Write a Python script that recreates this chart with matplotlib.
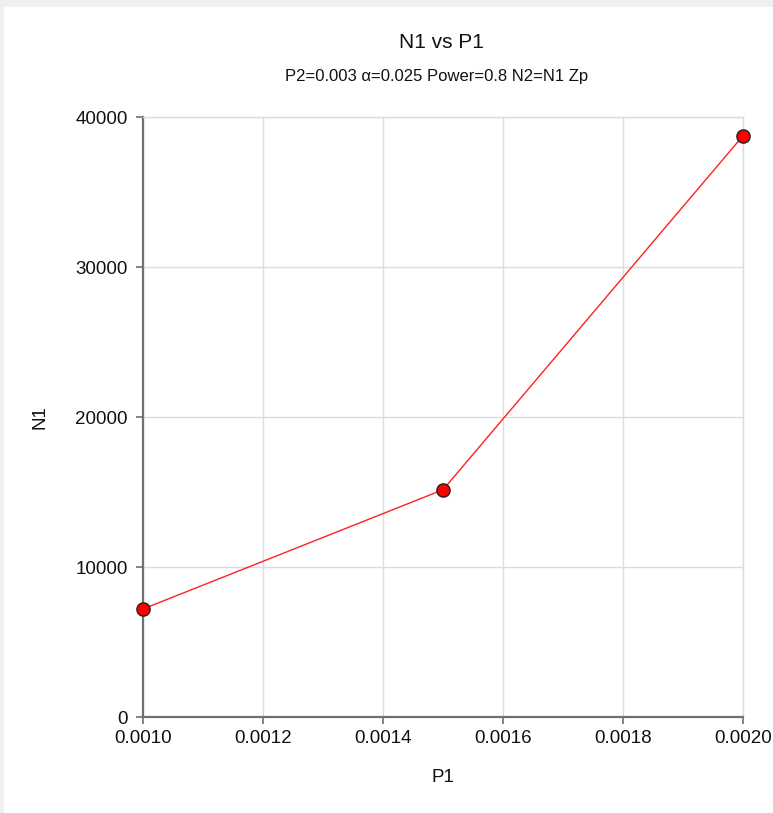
import matplotlib
matplotlib.use('Agg')
import matplotlib.pyplot as plt
from matplotlib.patches import Rectangle

plt.rcParams['font.family'] = ['Liberation Sans', 'DejaVu Sans']

# data
p1 = [0.0010, 0.0015, 0.0020]
n1 = [7200, 15150, 38750]
x_ticks = [0.0010, 0.0012, 0.0014, 0.0016, 0.0018, 0.0020]
y_ticks = [0, 10000, 20000, 30000, 40000]

W, H = 773, 813
fig = plt.figure(figsize=(W / 100, H / 100), dpi=100, facecolor='#f0f0f0')
# white panel inside the grey frame
fig.add_artist(Rectangle((4 / W, 0), 1 - 4 / W, 1 - 7 / H, transform=fig.transFigure,
                         facecolor='white', edgecolor='none', zorder=-10))

ax = fig.add_axes([143 / W, 1 - 717 / H, 600 / W, 600 / H])
ax.set_facecolor('white')

ax.plot(p1, n1, color='#ff2020', lw=1, marker='o', markersize=9.5,
        markerfacecolor='#ff0000', markeredgecolor='#202020', markeredgewidth=1,
        clip_on=False, zorder=5)

ax.set_xlim(0.0010, 0.0020)
ax.set_ylim(0, 40000)
ax.set_xticks(x_ticks)
ax.set_xticklabels(['%.4f' % v for v in x_ticks])
ax.set_yticks(y_ticks)
ax.set_yticklabels([str(v) for v in y_ticks])

ax.grid(True, color='#dcdcdc', lw=1)
ax.set_axisbelow(True)
for s in ['top', 'right']:
    ax.spines[s].set_color('#dcdcdc')
    ax.spines[s].set_linewidth(1)
for s in ['left', 'bottom']:
    ax.spines[s].set_color('#707070')
    ax.spines[s].set_linewidth(1.6)

ax.tick_params(axis='both', direction='out', length=5, width=1.2, color='#707070',
               labelsize=13.5, labelcolor='#111111')
ax.tick_params(axis='y', pad=6)
ax.tick_params(axis='x', pad=4)

ax.set_xlabel('P1', fontsize=13.5, color='#111111', va='center')
ax.set_ylabel('N1', fontsize=13.5, color='#111111', va='center')
ax.xaxis.set_label_coords(0.5, -(777 - 717) / 600)
ax.yaxis.set_label_coords(-(143 - 40) / 600, 0.5)

fig.text(441 / W, 1 - 43 / H, 'N1 vs P1', ha='center', va='center', fontsize=15, color='#111111')
fig.text(437 / W, 1 - 76 / H, 'P2=0.003 \u03b1=0.025 Power=0.8 N2=N1 Zp', ha='center', va='center',
         fontsize=12, color='#111111')

fig.savefig('out.png', dpi=100, facecolor=fig.get_facecolor())
